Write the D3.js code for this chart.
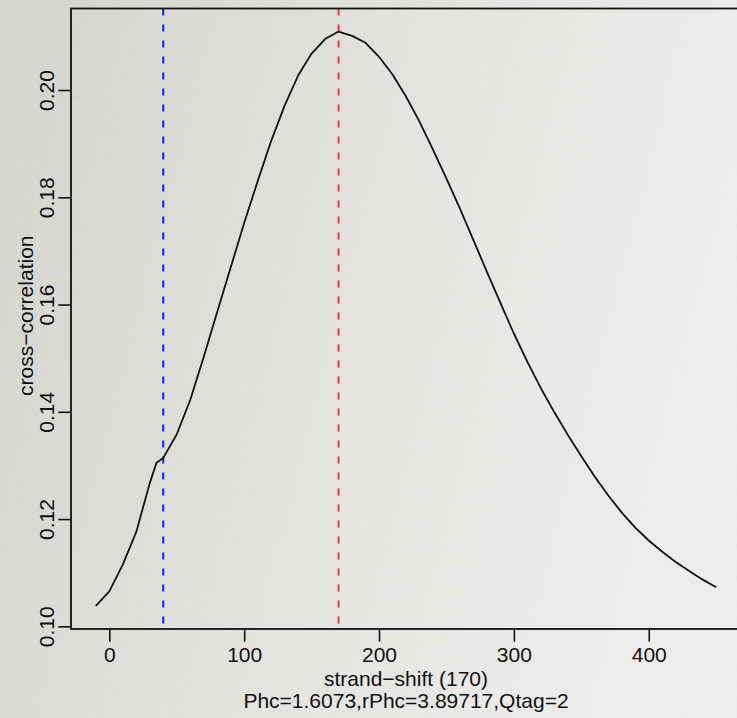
<!DOCTYPE html>
<html>
<head>
<meta charset="utf-8">
<script src="https://cdn.jsdelivr.net/npm/d3@7"></script>
<style>
  html, body { margin: 0; padding: 0; background: #dfdfdb; }
  svg { display: block; font-family: "Liberation Sans", Arial, Helvetica, sans-serif; }
</style>
</head>
<body>
<div id="chart"></div>
<script>
// strand shift (bp) and cross-correlation
const shifts = [-10, 0, 10, 20, 30, 35, 40, 50, 60, 70, 80, 90, 100, 110, 120, 130, 140, 150, 160, 170,
  180, 190, 200, 210, 220, 230, 240, 250, 260, 270, 280, 290, 300, 310, 320, 330, 340, 350, 360, 370,
  380, 390, 400, 410, 420, 430, 440, 450];
const corr = [0.1038, 0.1065, 0.1115, 0.1176, 0.1267, 0.1305, 0.1314, 0.1358, 0.1422, 0.1502, 0.1586, 0.1669, 0.1752, 0.1830, 0.1905, 0.1971, 0.2027, 0.2068, 0.2095, 0.2109,
  0.2101, 0.2088, 0.2062, 0.2029, 0.1988, 0.1941, 0.1889, 0.1835, 0.1779, 0.1720, 0.1661, 0.1603, 0.1546, 0.1493, 0.1444, 0.1399, 0.1357, 0.1317, 0.1279, 0.1244,
  0.1212, 0.1184, 0.1160, 0.1139, 0.1120, 0.1103, 0.1087, 0.1073];

const xTicks = [0, 100, 200, 300, 400];
const yTicks = [0.10, 0.12, 0.14, 0.16, 0.18, 0.20];
const readLength = 40;   // blue line
const fragLength = 170;  // red line

const xLabel = 'strand\u2212shift (170)';
const subLabel = 'Phc=1.6073,rPhc=3.89717,Qtag=2';
const yLabel = 'cross\u2212correlation';

const width = 737;
const height = 718;
const plot = {left: 71, right: 741, top: 8.5, bottom: 629};
const tickLen = 12.7;

const svg = d3.select('#chart').append('svg')
  .attr('width', width)
  .attr('height', height);

// paper background
const defs = svg.append('defs');
const grad = defs.append('linearGradient')
  .attr('id', 'paper')
  .attr('x1', 0).attr('y1', 0).attr('x2', 1).attr('y2', 0.25);
grad.append('stop').attr('offset', 0).attr('stop-color', '#d3d3cd');
grad.append('stop').attr('offset', 0.55).attr('stop-color', '#e2e2de');
grad.append('stop').attr('offset', 1).attr('stop-color', '#ececea');

const noise = defs.append('filter').attr('id', 'grain')
  .attr('x', 0).attr('y', 0).attr('width', 1).attr('height', 1);
noise.append('feTurbulence')
  .attr('type', 'fractalNoise')
  .attr('baseFrequency', 0.8)
  .attr('numOctaves', 2)
  .attr('seed', 3);
noise.append('feColorMatrix')
  .attr('type', 'matrix')
  .attr('values', '0 0 0 0 1  0 0 0 0 1  0 0 0 0 1  0 0 0 0.35 -0.1');

svg.append('rect')
  .attr('width', width).attr('height', height)
  .attr('fill', 'url(#paper)');
svg.append('rect')
  .attr('width', width).attr('height', height)
  .attr('filter', 'url(#grain)')
  .attr('opacity', 0.5);

// scales (R style: data range plus 4%)
const xScale = d3.scaleLinear()
  .domain([-28.4, 468.4])
  .range([plot.left, plot.right]);

const yScale = d3.scaleLinear()
  .domain([0.0995, 0.2152])
  .range([plot.bottom, plot.top]);

// reference lines
svg.append('line')
  .attr('x1', xScale(readLength)).attr('x2', xScale(readLength))
  .attr('y1', plot.top).attr('y2', plot.bottom)
  .attr('stroke', '#1a1aff')
  .attr('stroke-width', 2)
  .attr('stroke-dasharray', '7,9');

svg.append('line')
  .attr('x1', xScale(fragLength)).attr('x2', xScale(fragLength))
  .attr('y1', plot.top).attr('y2', plot.bottom)
  .attr('stroke', '#ff3333')
  .attr('stroke-width', 2)
  .attr('stroke-dasharray', '7,9');

// curve
const line = d3.line()
  .x((d, i) => xScale(shifts[i]))
  .y(d => yScale(d));

svg.append('path')
  .datum(corr)
  .attr('d', line)
  .attr('fill', 'none')
  .attr('stroke', '#111')
  .attr('stroke-width', 1.8)
  .attr('stroke-linejoin', 'round');

// axes
const xAxis = d3.axisBottom(xScale)
  .tickValues(xTicks)
  .tickSize(tickLen)
  .tickSizeOuter(0)
  .tickFormat(d3.format('d'));

const xAxisG = svg.append('g')
  .attr('transform', `translate(0, ${plot.bottom})`)
  .call(xAxis);
xAxisG.select('.domain').remove();
xAxisG.selectAll('line').attr('stroke', '#111').attr('stroke-width', 1.6);
xAxisG.selectAll('text')
  .attr('y', 33)
  .attr('dy', 0)
  .attr('fill', '#111')
  .style('font-size', '21px');

const yAxis = d3.axisLeft(yScale)
  .tickValues(yTicks)
  .tickSize(tickLen)
  .tickSizeOuter(0)
  .tickFormat(d3.format('.2f'));

const yAxisG = svg.append('g')
  .attr('transform', `translate(${plot.left}, 0)`)
  .call(yAxis);
yAxisG.select('.domain').remove();
yAxisG.selectAll('line').attr('stroke', '#111').attr('stroke-width', 1.6);
yAxisG.selectAll('text')
  .attr('transform', 'rotate(-90)')
  .attr('x', 0)
  .attr('y', -17.5)
  .attr('dy', 0)
  .attr('text-anchor', 'middle')
  .attr('fill', '#111')
  .style('font-size', '21px');

// box
svg.append('rect')
  .attr('x', plot.left)
  .attr('y', plot.top)
  .attr('width', plot.right - plot.left)
  .attr('height', plot.bottom - plot.top)
  .attr('fill', 'none')
  .attr('stroke', '#111')
  .attr('stroke-width', 1.8);

// labels
const midX = (plot.left + plot.right) / 2;
const midY = (plot.top + plot.bottom) / 2;

svg.append('text')
  .attr('x', midX)
  .attr('y', 686)
  .attr('text-anchor', 'middle')
  .attr('fill', '#111')
  .style('font-size', '21px')
  .text(xLabel);

svg.append('text')
  .attr('x', midX)
  .attr('y', 708)
  .attr('text-anchor', 'middle')
  .attr('fill', '#111')
  .style('font-size', '21px')
  .text(subLabel);

svg.append('text')
  .attr('transform', `translate(33, ${midY - 3}) rotate(-90)`)
  .attr('text-anchor', 'middle')
  .attr('fill', '#111')
  .style('font-size', '21px')
  .text(yLabel);
</script>
</body>
</html>
